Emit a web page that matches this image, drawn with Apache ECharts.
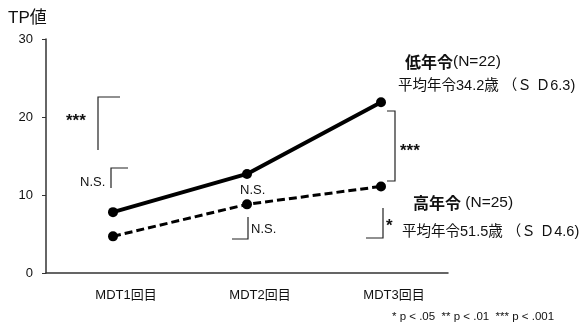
<!DOCTYPE html>
<html>
<head>
<meta charset="utf-8">
<script src="https://cdn.jsdelivr.net/npm/echarts@6/dist/echarts.min.js"></script>
<style>
  html, body { margin: 0; padding: 0; background: #fff; }
  #chart { width: 582px; height: 324px; }
</style>
</head>
<body>
<div id="chart"></div>
<script>
// Sessions on the x axis
var categories = ['MDT1回目', 'MDT2回目', 'MDT3回目'];
// TP values per group
var youngValues = [7.8, 12.7, 21.9];   // 低年令 (N=22)
var olderValues = [4.7, 8.8, 11.1];    // 高年令 (N=25)
// Y axis ticks
var yTicks = [0, 10, 20, 30];

var LATIN = '"Liberation Sans", Arial, "Noto Sans CJK JP", sans-serif';
var INK = '#111';

var chart = echarts.init(document.getElementById('chart'), null, { renderer: 'canvas' });

// helper: a bracket drawn as a polyline
function bracket(points, w) {
  return {
    type: 'polyline',
    shape: { points: points },
    style: { stroke: '#222', lineWidth: w || 1.2, fill: null }
  };
}
function txt(x, y, s, size, weight, align) {
  return {
    type: 'text', x: x, y: y,
    style: {
      text: s, fill: INK, font: (weight || 'normal') + ' ' + size + 'px ' + LATIN,
      textAlign: align || 'left', textVerticalAlign: 'middle'
    }
  };
}
function group(x, y, head, tail) {
  return {
    type: 'text', x: x, y: y,
    style: {
      text: '{b|' + head + '}{n|' + tail + '}',
      textVerticalAlign: 'middle',
      rich: {
        b: { font: 'bold 16px "Noto Sans CJK JP", sans-serif', fill: INK },
        n: { font: 'normal 15.5px ' + LATIN, fill: INK }
      }
    }
  };
}

var option = {
  animation: false,
  backgroundColor: '#fff',
  grid: { left: 46, right: 134, top: 39, bottom: 51 },
  xAxis: {
    type: 'category',
    data: categories,
    boundaryGap: true,
    axisLine: { lineStyle: { color: '#333', width: 1.5 } },
    axisTick: { show: false },
    axisLabel: {
      color: INK, fontSize: 13, fontFamily: LATIN, margin: 16,
      padding: [0, 0, 0, 26]
    }
  },
  yAxis: {
    type: 'value',
    min: yTicks[0], max: yTicks[yTicks.length - 1], interval: 10,
    axisLine: { show: true, lineStyle: { color: '#333', width: 1.5 } },
    axisTick: { show: true, length: 4, inside: false, lineStyle: { color: '#333' } },
    splitLine: { show: false },
    axisLabel: { color: INK, fontSize: 13, fontFamily: LATIN, margin: 13 }
  },
  series: [
    {
      name: '低年令',
      type: 'line',
      data: youngValues,
      symbol: 'circle', symbolSize: 10,
      lineStyle: { color: '#000', width: 4 },
      itemStyle: { color: '#000' }
    },
    {
      name: '高年令',
      type: 'line',
      data: olderValues,
      symbol: 'circle', symbolSize: 10,
      lineStyle: { color: '#000', width: 3, type: [8, 4] },
      itemStyle: { color: '#000' }
    }
  ],
  graphic: [
    txt(8, 18, 'TP値', 17, 'normal'),
    // MDT1: change across sessions and group difference
    txt(66, 121, '***', 17, 'bold'),
    bracket([[120, 97], [98, 97], [98, 150]]),
    txt(80, 182, 'N.S.', 13, 'normal'),
    bracket([[128, 168], [111, 168], [111, 188]]),
    // MDT2
    txt(240, 190, 'N.S.', 13, 'normal'),
    bracket([[248, 217], [248, 239], [232, 239]]),
    txt(251, 229, 'N.S.', 13, 'normal'),
    // MDT3
    bracket([[387, 111], [395, 111], [395, 181], [387, 181]]),
    txt(400, 151, '***', 17, 'bold'),
    bracket([[383, 208], [383, 238], [366, 238]]),
    txt(386, 226, '*', 17, 'bold'),
    // group descriptions
    group(405, 62, '低年令', '(N=22)'),
    txt(398, 86, '平均年令34.2歳 （Ｓ Ｄ6.3)', 14.5, 'normal'),
    group(413, 203, '高年令', ' (N=25)'),
    txt(402, 232, '平均年令51.5歳 （Ｓ Ｄ4.6)', 14.5, 'normal'),
    txt(392, 317, '* p < .05  ** p < .01  *** p < .001', 11.5, 'normal')
  ]
};

chart.setOption(option);
</script>
</body>
</html>
